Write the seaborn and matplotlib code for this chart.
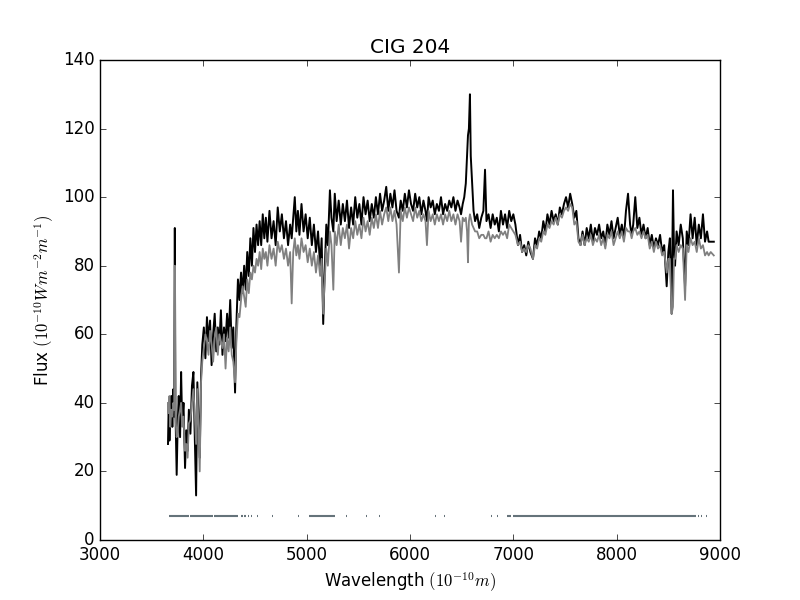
import pandas as pd
import seaborn as sns
import matplotlib
matplotlib.use('Agg')
import matplotlib.pyplot as plt

##
# spectrum values

wavelength = [
    3658, 3665, 3672, 3680, 3690, 3700, 3710, 3718, 3724, 3730,
    3742, 3752, 3762, 3775, 3785, 3795, 3808, 3823, 3835, 3848,
    3860, 3875, 3890, 3904, 3915, 3930, 3942, 3955, 3965, 3978,
    3990, 4005, 4020, 4035, 4050, 4065, 4080, 4095, 4110, 4125,
    4140, 4155, 4170, 4185, 4200, 4215, 4230, 4245, 4260, 4275,
    4290, 4307, 4320, 4335, 4350, 4365, 4380, 4395, 4410, 4425,
    4440, 4455, 4470, 4485, 4500, 4515, 4530, 4545, 4560, 4575,
    4590, 4605, 4620, 4640, 4660, 4680, 4700, 4720, 4740, 4760,
    4780, 4800, 4820, 4840, 4855, 4870, 4885, 4900, 4915, 4930,
    4950, 4970, 4990, 5010, 5030, 5050, 5070, 5090, 5110, 5130,
    5145, 5160, 5172, 5190, 5205, 5225, 5240, 5258, 5272, 5290,
    5310, 5330, 5350, 5370, 5390, 5410, 5430, 5450, 5470, 5490,
    5510, 5530, 5550, 5570, 5590, 5610, 5630, 5650, 5670, 5690,
    5710, 5730, 5750, 5770, 5790, 5810, 5830, 5850, 5870, 5893,
    5910, 5930, 5950, 5970, 5990, 6010, 6030, 6050, 6070, 6090,
    6110, 6130, 6150, 6164, 6180, 6200, 6220, 6240, 6260, 6280,
    6300, 6320, 6340, 6360, 6380, 6400, 6420, 6440, 6460, 6480,
    6494, 6510, 6525, 6540, 6552, 6561, 6570, 6580, 6588, 6601,
    6615, 6630, 6650, 6670, 6690, 6710, 6726, 6740, 6760, 6780,
    6800, 6820, 6840, 6860, 6880, 6900, 6920, 6940, 6960, 6980,
    7000, 7020, 7045, 7065, 7085, 7105, 7125, 7145, 7165, 7190,
    7210, 7230, 7250, 7270, 7290, 7310, 7330, 7350, 7370, 7390,
    7410, 7430, 7450, 7470, 7490, 7510, 7530, 7550, 7570, 7590,
    7610, 7630, 7650, 7670, 7690, 7710, 7730, 7750, 7770, 7790,
    7810, 7830, 7850, 7870, 7890, 7910, 7930, 7950, 7970, 7990,
    8010, 8030, 8050, 8070, 8090, 8110, 8130, 8145, 8160, 8180,
    8200, 8220, 8240, 8260, 8280, 8300, 8320, 8340, 8360, 8380,
    8400, 8420, 8440, 8460, 8484, 8500, 8515, 8532, 8545, 8555,
    8565, 8580, 8600, 8620, 8640, 8662, 8678, 8695, 8715, 8735,
    8755, 8775, 8795, 8815, 8835, 8855, 8875, 8890, 8910, 8940,
]

flux_observed = [
    28, 40, 29, 37, 42, 33, 44, 36, 91, 38,
    19, 34, 42, 30, 49, 34, 40, 21, 32, 26,
    38, 31, 45, 49, 33, 13, 46, 34, 24, 48,
    57, 62, 53, 65, 58, 64, 51, 60, 66, 55,
    62, 57, 67, 54, 62, 58, 66, 59, 70, 56,
    62, 43, 63, 76, 70, 78, 72, 80, 73, 84,
    77, 88, 80, 91, 84, 92, 86, 93, 86, 95,
    88, 94, 87, 96, 88, 93, 86, 97, 90, 95,
    88, 93, 86, 92, 88, 94, 100, 90, 96, 89,
    98, 90, 95, 88, 94, 86, 92, 84, 90, 80,
    88, 63, 76, 92, 86, 102, 94, 90, 101, 93,
    99, 92, 98, 93, 99, 91, 97, 92, 100, 94,
    98, 92, 100, 95, 99, 93, 98, 94, 100, 95,
    101, 96, 99, 103, 96, 101, 97, 102, 96, 94,
    99, 96, 101, 97, 102, 98, 96, 101, 97, 100,
    95, 99, 96, 93, 100, 97, 99, 95, 98, 96,
    100, 95, 98, 96, 99, 97, 100, 96, 99, 97,
    95, 98, 100, 104, 112, 118, 120, 130, 112, 104,
    96, 93, 95, 91, 94, 96, 108, 93, 95, 91,
    95, 92, 94, 90, 96, 92, 95, 91, 96, 93,
    95, 92, 86, 89, 84, 86, 83, 87, 84, 82,
    88, 86, 90, 88, 93, 90, 95, 92, 96, 93,
    95, 92, 97, 95, 98, 100, 97, 101, 98, 94,
    96, 88, 86, 90, 86, 91, 88, 92, 87, 91,
    89, 92, 88, 90, 86, 92, 89, 93, 88, 91,
    94, 89, 92, 88, 96, 101, 92, 89, 92, 100,
    91, 94, 89, 92, 88, 91, 86, 89, 85, 88,
    86, 89, 84, 86, 74, 84, 88, 66, 102, 84,
    80, 90, 86, 92, 88, 74, 90, 86, 95, 88,
    94, 86, 92, 88, 95, 87, 90, 87, 87, 87,
]

flux_model = [
    40, 37, 42, 33, 38, 36, 40, 38, 80, 36,
    30, 32, 36, 38, 40, 33, 36, 26, 28, 24,
    34, 35, 40, 44, 38, 28, 44, 30, 20, 46,
    52, 56, 60, 58, 54, 61, 57, 52, 59, 62,
    54, 60, 58, 56, 60, 50, 59, 55, 62, 54,
    52, 46, 58, 66, 65, 70, 74, 71, 68, 76,
    72, 78, 76, 80, 78, 82, 80, 84, 79, 85,
    82, 84, 80, 86, 82, 85, 80, 87, 84, 86,
    82, 85, 80, 84, 69, 84, 88, 83, 86, 82,
    88, 84, 86, 81, 85, 80, 84, 78, 83, 77,
    82, 66, 74, 85, 80, 90, 86, 73, 90, 86,
    92, 86, 91, 88, 92, 85, 91, 88, 93, 89,
    92, 88, 94, 90, 93, 89, 94, 91, 95, 91,
    96, 92, 95, 97, 93, 97, 93, 96, 92, 78,
    96, 93, 97, 94, 97, 95, 93, 97, 94, 96,
    93, 95, 93, 86, 96, 93, 95, 92, 95, 93,
    95, 92, 95, 93, 96, 93, 95, 92, 95, 93,
    87, 94, 93, 94, 90, 81, 93, 95, 94, 92,
    91, 90, 90, 88, 89, 89, 88, 88, 90, 87,
    89, 88, 89, 88, 90, 89, 90, 88, 92, 91,
    90, 89, 86, 87, 84, 85, 84, 86, 85, 82,
    86, 85, 88, 87, 90, 89, 92, 91, 93, 92,
    94, 92, 95, 94, 96, 97, 96, 98, 97, 92,
    93, 87, 86, 89, 86, 88, 87, 89, 86, 88,
    87, 89, 86, 88, 85, 89, 88, 90, 86, 88,
    90, 88, 90, 87, 91, 90, 90, 88, 90, 91,
    89, 90, 88, 90, 88, 89, 85, 87, 84, 87,
    85, 86, 83, 84, 78, 82, 82, 66, 68, 82,
    82, 86, 84, 86, 85, 70, 86, 84, 88, 86,
    87, 84, 88, 85, 86, 83, 84, 83, 84, 83,
]

# masked pixels (start, end) shown as a bar near the bottom
mask_start = [3663, 3871, 4104, 4362, 4395, 4430, 4466, 4519, 4663, 4914,
              5025, 5380, 5577, 5609, 5702, 6150, 6240, 6329, 6781, 6839,
              6943, 6996, 8784, 8820, 8860]
mask_end = [3860, 4093, 4337, 4380, 4409, 4438, 4474, 4527, 4671, 4922,
            5276, 5388, 5585, 5617, 5710, 6158, 6248, 6337, 6795, 6853,
            6978, 8770, 8792, 8828, 8878]
mask_level = 7

##
# plot

plt.style.use('classic')

spectrum = pd.DataFrame({'wavelength': wavelength,
                         'observed': flux_observed,
                         'model': flux_model})

fig, ax = plt.subplots(figsize=(8, 6), dpi=100)
sns.lineplot(data=spectrum, x='wavelength', y='observed', color='black',
             linewidth=1.4, estimator=None, sort=False, ax=ax)
sns.lineplot(data=spectrum, x='wavelength', y='model', color='0.5',
             linewidth=1.3, estimator=None, sort=False, ax=ax)
ax.hlines([mask_level] * len(mask_start), mask_start, mask_end,
          color='#65737a', linewidth=1.5)

ax.set_xlim(3000, 9000)
ax.set_ylim(0, 140)
ax.set_title('CIG 204')
ax.set_xlabel(r'Wavelength $(10^{-10} m)$')
ax.set_ylabel(r'Flux $(10^{-10} W m^{-2} m^{-1})$')

fig.savefig('out.png', dpi=100, facecolor='white')
